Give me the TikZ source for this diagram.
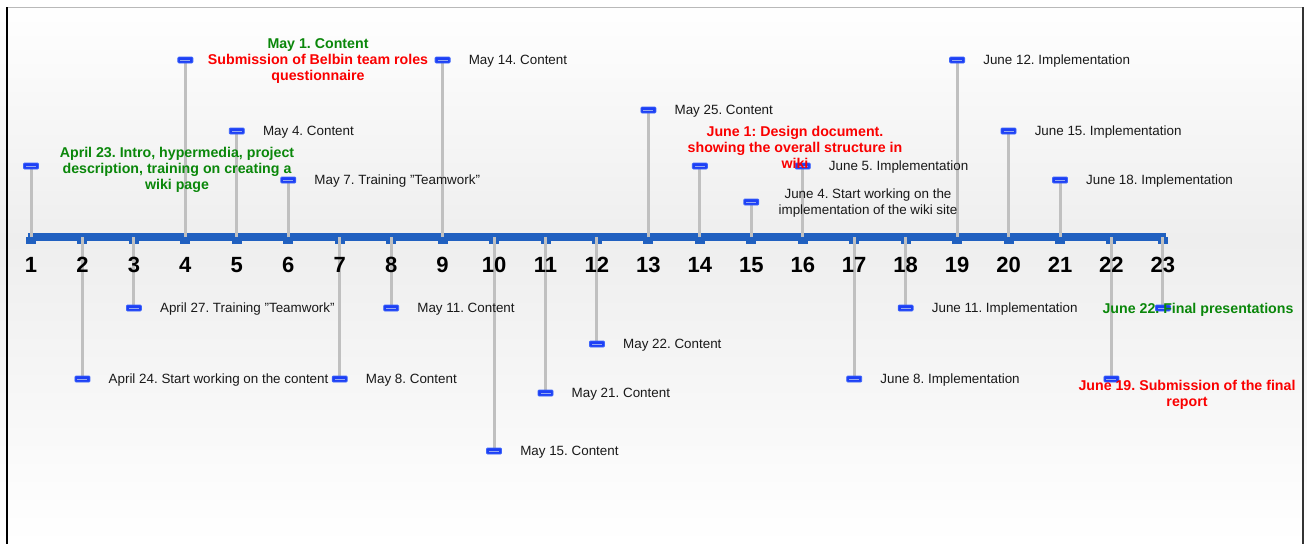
\documentclass[tikz,border=0pt]{standalone}
\usepackage{fontspec}
\setmainfont{Liberation Sans}
\frenchspacing
\definecolor{barblue}{RGB}{32,96,192}
\definecolor{stemgray}{RGB}{192,192,192}
\definecolor{mkblue}{RGB}{30,64,245}
\definecolor{mkedge}{RGB}{60,100,250}
\definecolor{mkstripe}{RGB}{150,170,240}
\definecolor{bggray}{RGB}{238,238,238}
\definecolor{grn}{RGB}{10,135,10}
\definecolor{rd}{RGB}{250,0,0}
\definecolor{txt}{RGB}{25,25,25}
\begin{document}
\begin{tikzpicture}[x=1pt,y=-1pt,
  stem/.style={draw=stemgray,line width=3pt},
  mk/.style={rectangle,rounded corners=1pt,fill=mkblue,draw=mkedge,line width=0.8pt,
    minimum width=15pt,minimum height=6pt,inner sep=0pt,
    path picture={\draw[mkstripe,line width=0.9pt]
      ([xshift=2.5pt]path picture bounding box.west) -- ([xshift=-2.5pt]path picture bounding box.east);}},
  lab/.style={anchor=west,font=\fontsize{13.4}{16}\selectfont,text=txt,inner sep=0pt,yshift=-1.5pt},
  blab/.style={font=\fontsize{14.2}{16}\selectfont\bfseries,align=center,inner sep=0pt,yshift=-1.5pt},
  num/.style={font=\fontsize{22}{24}\selectfont\bfseries,text=black,inner sep=0pt}
]
\useasboundingbox (0,0) rectangle (1307,544);
% background
\shade[top color=white,bottom color=bggray] (0,0) rectangle (1307,240);
\shade[top color=bggray,bottom color=white] (0,240) rectangle (1307,544);
% frame
\draw[gray!55,line width=1pt] (7,7) -- (1303,7);
\draw[black,line width=1.5pt] (7,7) -- (7,544);
\draw[black!80,line width=1.5pt] (1303,7) -- (1303,544);
% axis
\fill[barblue] (28,233) rectangle (1166,241);
\foreach \i in {1,...,23}{
  \coordinate (t\i) at ({31+(\i-1)*51.45},237);
  \fill[barblue] ([xshift=-5pt]t\i) rectangle ([xshift=5pt,yshift=-7pt]t\i);
}
% event positions
\foreach \i/\y in {1/166,2/379,3/308,4/60,5/131,6/180,7/379,8/308,9/60,10/451,11/393,12/344,
  13/110,14/166,15/202,16/166,17/379,18/308,19/60,20/131,21/180,22/379,23/308}{
  \coordinate (p\i) at ({31+(\i-1)*51.45},\y);
  \draw[stem] (t\i) -- (p\i);
  \node[mk] (m\i) at (p\i) {};
}
% tick numbers
\foreach \i in {1,...,23}{
  \node[num] (n\i) at ({31+(\i-1)*51.45},265) {\i};
}
% labels
\node[blab,text=grn] (l1) at (177,168) {April 23. Intro, hypermedia, project\\description, training on creating a\\wiki page};
\node[lab] (l2) at ([xshift=26pt]m2.center) {April 24. Start working on the content};
\node[lab] (l3) at ([xshift=26pt]m3.center) {April 27. Training \char"22 Teamwork\char"22};
\node[blab,text=rd] (l4) at (318,60) {\textcolor{grn}{May 1. Content}\\Submission of Belbin team roles\\questionnaire};
\node[lab] (l5) at ([xshift=26pt]m5.center) {May 4. Content};
\node[lab] (l6) at ([xshift=26pt]m6.center) {May 7. Training \char"22 Teamwork\char"22};
\node[lab] (l7) at ([xshift=26pt]m7.center) {May 8. Content};
\node[lab] (l8) at ([xshift=26pt]m8.center) {May 11. Content};
\node[lab] (l9) at ([xshift=26pt]m9.center) {May 14. Content};
\node[lab] (l10) at ([xshift=26pt]m10.center) {May 15. Content};
\node[lab] (l11) at ([xshift=26pt]m11.center) {May 21. Content};
\node[lab] (l12) at ([xshift=26pt]m12.center) {May 22. Content};
\node[lab] (l13) at ([xshift=26pt]m13.center) {May 25. Content};
\node[blab,text=rd] (l14) at (795,146) {June 1: Design document.\\showing the overall structure in\\wiki};
\node[lab,anchor=center,align=center] (l15) at (868,202) {June 4. Start working on the\\implementation of the wiki site};
\node[lab] (l16) at ([xshift=26pt]m16.center) {June 5. Implementation};
\node[lab] (l17) at ([xshift=26pt]m17.center) {June 8. Implementation};
\node[lab] (l18) at ([xshift=26pt]m18.center) {June 11. Implementation};
\node[lab] (l19) at ([xshift=26pt]m19.center) {June 12. Implementation};
\node[lab] (l20) at ([xshift=26pt]m20.center) {June 15. Implementation};
\node[lab] (l21) at ([xshift=26pt]m21.center) {June 18. Implementation};
\node[blab,text=rd] (l22) at (1187,393) {June 19. Submission of the final\\report};
\node[blab,text=grn] (l23) at (1198,308) {June 22. Final presentations};
\end{tikzpicture}
\end{document}
